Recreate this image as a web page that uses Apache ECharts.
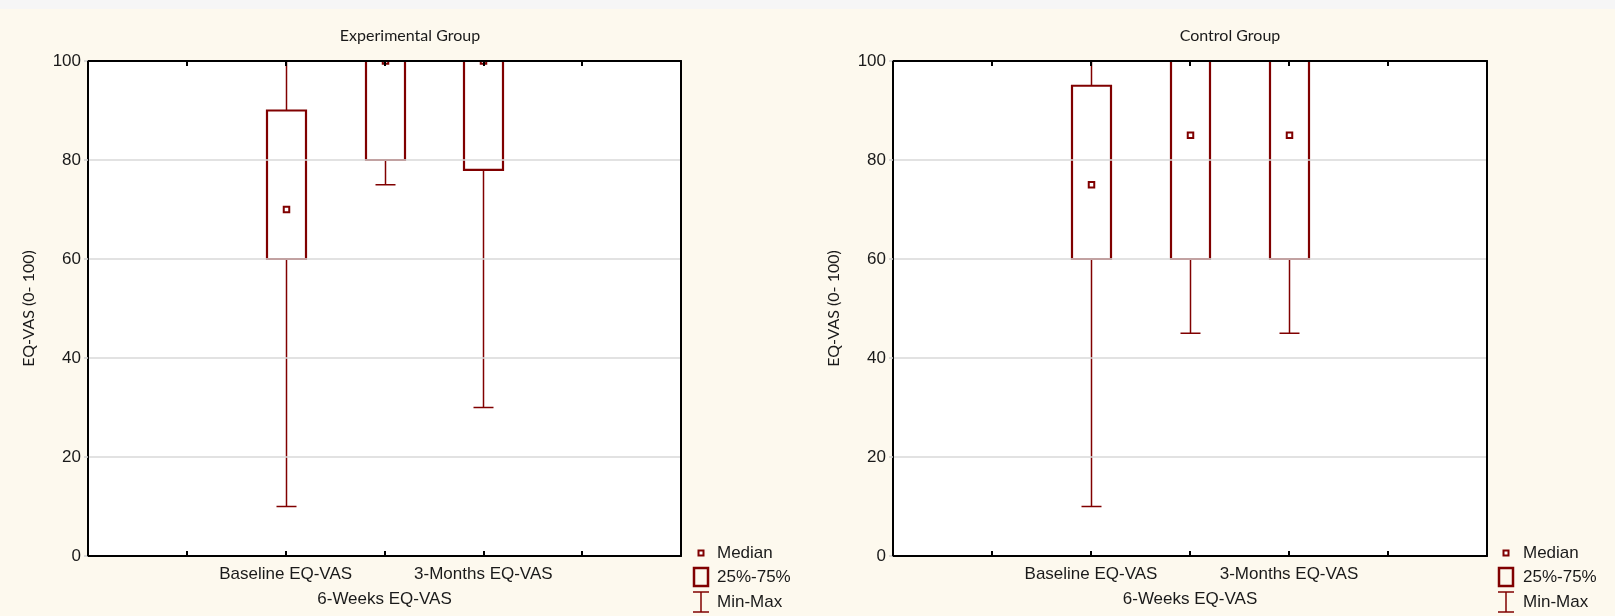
<!DOCTYPE html>
<html>
<head>
<meta charset="utf-8">
<script src="https://cdn.jsdelivr.net/npm/echarts@6/dist/echarts.min.js"></script>
<style>
html,body{margin:0;padding:0;background:#f6f6f6;}
#chart{width:1615px;height:616px;}
</style>
</head>
<body>
<div id="chart"></div>
<script>
// ---- data ----
const categories = ['', '', 'Baseline EQ-VAS', '6-Weeks EQ-VAS', '3-Months EQ-VAS', '', ''];
const groupIndex = [2, 3, 4];
const yTicks = [0, 20, 40, 60, 80, 100];

const expMin = [10, 75, 30];
const expQ1  = [60, 80, 78];
const expMed = [70, 100, 100];
const expQ3  = [90, 100, 100];
const expMax = [100, 100, 100];

const ctrlMin = [10, 45, 45];
const ctrlQ1  = [60, 60, 60];
const ctrlMed = [75, 85, 85];
const ctrlQ3  = [95, 100, 100];
const ctrlMax = [100, 100, 100];

const panelTitles = ['Experimental Group', 'Control Group'];
const yName = 'EQ-VAS (0- 100)';
const legendLabels = ['Median', '25%-75%', 'Min-Max'];

// ---- styles ----
const RED = '#800000';
const TXT = '#1a1a1a';
const BG = '#fdf9ee';
const SANS = 'Liberation Sans, Arial';

function boxData(mn, q1, md, q3, mx) {
  return groupIndex.map((x, i) => [x, mn[i], q1[i], md[i], q3[i], mx[i]]);
}

function renderBox(params, api) {
  const x = api.value(0);
  const pMin = api.coord([x, api.value(1)]);
  const pQ1 = api.coord([x, api.value(2)]);
  const pMed = api.coord([x, api.value(3)]);
  const pQ3 = api.coord([x, api.value(4)]);
  const pMax = api.coord([x, api.value(5)]);
  const cx = Math.round(pQ1[0]) + 0.5;
  const bw = 39, cw = 20, ms = 5.5;
  const children = [
    {type: 'line', shape: {x1: cx, y1: pMin[1], x2: cx, y2: pQ1[1]}, style: {stroke: RED, lineWidth: 1.5}},
    {type: 'line', shape: {x1: cx, y1: pQ3[1], x2: cx, y2: pMax[1]}, style: {stroke: RED, lineWidth: 1.5}},
    {type: 'line', shape: {x1: cx - cw / 2, y1: pMin[1], x2: cx + cw / 2, y2: pMin[1]}, style: {stroke: RED, lineWidth: 1.5}},
    {type: 'line', shape: {x1: cx - cw / 2, y1: pMax[1], x2: cx + cw / 2, y2: pMax[1]}, style: {stroke: RED, lineWidth: 1.5}},
    {type: 'rect', shape: {x: cx - bw / 2, y: pQ3[1], width: bw, height: pQ1[1] - pQ3[1]}, style: {stroke: RED, lineWidth: 2.2, fill: '#fff'}},
    {type: 'rect', shape: {x: cx - ms / 2, y: pMed[1] - ms / 2, width: ms, height: ms}, style: {stroke: RED, lineWidth: 2, fill: '#fff'}}
  ];
  return {type: 'group', children: children};
}

const grids = [
  {left: 88, top: 61, width: 593, height: 495},
  {left: 893, top: 61, width: 594, height: 495}
];

const xAxes = [], yAxes = [], series = [];
grids.forEach((g, gi) => {
  xAxes.push({
    type: 'category', gridIndex: gi, data: categories, boundaryGap: false, position: 'bottom', z: 5,
    axisLine: {onZero: false, lineStyle: {color: '#000', width: 2}},
    axisTick: {inside: true, length: 5, interval: 0, lineStyle: {color: '#000', width: 2}},
    axisLabel: {interval: 0, margin: 6, lineHeight: 25, fontSize: 17, color: TXT, fontFamily: SANS,
      formatter: (v, i) => (i === 3 ? '\n' + v : v)},
    splitLine: {show: false}
  });
  xAxes.push({
    type: 'category', gridIndex: gi, data: categories, boundaryGap: false, position: 'top', z: 5,
    axisLine: {onZero: false, lineStyle: {color: '#000', width: 2}},
    axisTick: {inside: true, length: 5, interval: 0, lineStyle: {color: '#000', width: 2}},
    axisLabel: {show: false}, splitLine: {show: false}
  });
  yAxes.push({
    type: 'value', gridIndex: gi, min: yTicks[0], max: yTicks[yTicks.length - 1], interval: 20, position: 'left', z: 5,
    name: yName, nameLocation: 'middle', nameGap: 51, nameRotate: 90,
    nameTextStyle: {fontFamily: 'Lato', fontSize: 16, color: TXT},
    axisLine: {show: true, onZero: false, lineStyle: {color: '#000', width: 2}},
    axisTick: {show: true, length: 4, lineStyle: {color: '#d0d0d0', width: 1.5}},
    axisLabel: {margin: 7, fontSize: 17, color: TXT, fontFamily: SANS},
    splitLine: {lineStyle: {color: '#d9d9d9', width: 1.5}}
  });
  yAxes.push({
    type: 'value', gridIndex: gi, min: 0, max: 100, interval: 20, position: 'right', z: 5,
    axisLine: {show: true, onZero: false, lineStyle: {color: '#000', width: 2}},
    axisTick: {show: false}, axisLabel: {show: false}, splitLine: {show: false}
  });
});

series.push({type: 'custom', xAxisIndex: 0, yAxisIndex: 0, clip: true, renderItem: renderBox,
  encode: {x: 0, y: [1, 2, 3, 4, 5]}, data: boxData(expMin, expQ1, expMed, expQ3, expMax)});
series.push({type: 'custom', xAxisIndex: 2, yAxisIndex: 2, clip: true, renderItem: renderBox,
  encode: {x: 0, y: [1, 2, 3, 4, 5]}, data: boxData(ctrlMin, ctrlQ1, ctrlMed, ctrlQ3, ctrlMax)});

function legendGraphics(ix, tx) {
  const ys = [553, 577, 602];
  return [
    {type: 'rect', shape: {x: ix - 2.5, y: ys[0] - 2.5, width: 5, height: 5}, style: {stroke: RED, lineWidth: 2, fill: '#fff'}},
    {type: 'rect', shape: {x: ix - 7, y: ys[1] - 9, width: 14, height: 18}, style: {stroke: RED, lineWidth: 2.5, fill: 'none'}},
    {type: 'line', shape: {x1: ix - 8, y1: ys[2] - 10, x2: ix + 8, y2: ys[2] - 10}, style: {stroke: RED, lineWidth: 1.5}},
    {type: 'line', shape: {x1: ix - 8, y1: ys[2] + 10, x2: ix + 8, y2: ys[2] + 10}, style: {stroke: RED, lineWidth: 1.5}},
    {type: 'line', shape: {x1: ix, y1: ys[2] - 10, x2: ix, y2: ys[2] + 10}, style: {stroke: RED, lineWidth: 1.5}},
    ...legendLabels.map((t, i) => ({type: 'text', x: tx, y: ys[i], style: {text: t, fontSize: 17, fontFamily: SANS, fill: TXT, textAlign: 'left', textVerticalAlign: 'middle'}}))
  ];
}

const graphic = [
  {type: 'rect', left: 0, top: 0, z: -10, shape: {width: 1615, height: 9}, style: {fill: '#f6f6f6'}},
  {type: 'text', x: 410, y: 36, style: {text: panelTitles[0], fontSize: 16, fontFamily: 'Lato', fill: TXT, textAlign: 'center', textVerticalAlign: 'middle'}},
  {type: 'text', x: 1230, y: 36, style: {text: panelTitles[1], fontSize: 16, fontFamily: 'Lato', fill: TXT, textAlign: 'center', textVerticalAlign: 'middle'}},
  ...legendGraphics(701, 717),
  ...legendGraphics(1506, 1523)
];

const chart = echarts.init(document.getElementById('chart'), null, {renderer: 'canvas'});
chart.setOption({
  backgroundColor: BG,
  animation: false,
  grid: grids.map(g => Object.assign({show: true, backgroundColor: '#fff', borderWidth: 0}, g)),
  xAxis: xAxes,
  yAxis: yAxes,
  series: series,
  graphic: graphic
});
</script>
</body>
</html>
